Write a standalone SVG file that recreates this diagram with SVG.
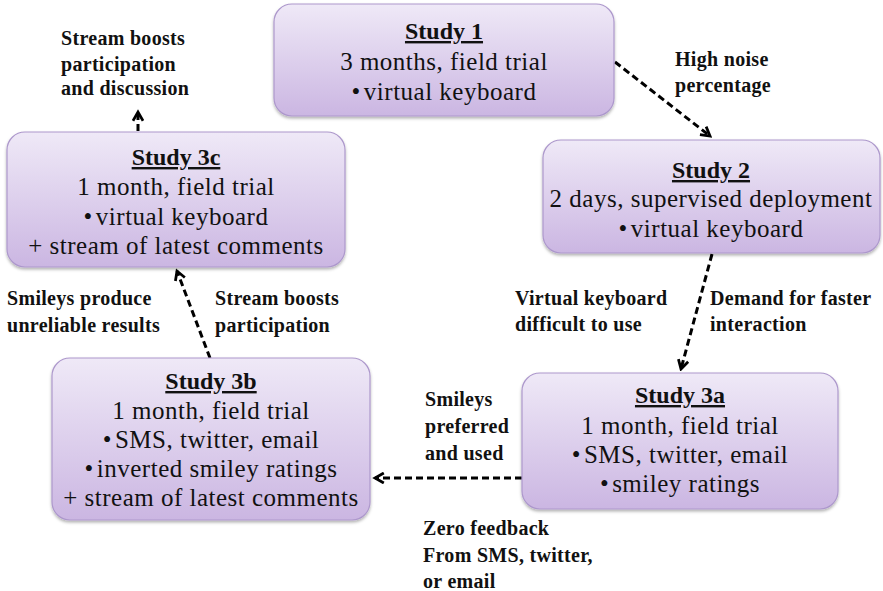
<svg xmlns="http://www.w3.org/2000/svg" width="883" height="591" viewBox="0 0 883 591">
<defs>
<linearGradient id="g" x1="0" y1="0" x2="0" y2="1">
<stop offset="0" stop-color="#efe9f7"/>
<stop offset="1" stop-color="#cbb6e2"/>
</linearGradient>
<filter id="sh" x="-10%" y="-10%" width="120%" height="130%">
<feDropShadow dx="0" dy="2" stdDeviation="1.5" flood-color="#000" flood-opacity="0.3"/>
</filter>
<marker id="ah" viewBox="0 0 10 10" refX="8" refY="5" markerWidth="4.2" markerHeight="4.2" orient="auto" markerUnits="strokeWidth">
<path d="M1,1 L8,5 L1,9" fill="none" stroke="#000" stroke-width="2.2"/>
</marker>
<style>
.box{fill:url(#g);stroke:#ad98cc;stroke-width:1.2;filter:url(#sh)}
.t{font-family:"Liberation Serif","Times New Roman",serif;font-size:24px;font-weight:bold;text-anchor:middle;text-decoration:underline;fill:#111}
.b{font-family:"Liberation Serif","Times New Roman",serif;font-size:25px;letter-spacing:0.5px;text-anchor:middle;fill:#111}
.l{font-family:"Liberation Serif","Times New Roman",serif;font-size:20px;letter-spacing:0.3px;font-weight:bold;fill:#111}
.c{fill:none;stroke:#000;stroke-width:3;stroke-dasharray:7 4;marker-end:url(#ah)}
</style>
</defs>
<g id="connectors">
<line class="c" x1="615" y1="62" x2="710" y2="136"/>
<line class="c" x1="712" y1="254" x2="681" y2="369"/>
<line class="c" x1="522" y1="478" x2="375" y2="478"/>
<line class="c" x1="210" y1="358" x2="177" y2="271"/>
<line class="c" x1="138" y1="131" x2="138" y2="112"/>
</g>
<g id="study1">
<rect class="box" x="274" y="4" width="340" height="112" rx="18"/>
<text class="t" x="444" y="39">Study 1</text>
<text class="b" x="444" y="70">3 months, field trial</text>
<text class="b" x="444" y="100">•<tspan dx="3">virtual keyboard</tspan></text>
</g>
<g id="study2">
<rect class="box" x="543" y="140" width="337" height="113" rx="18"/>
<text class="t" x="711" y="178">Study 2</text>
<text class="b" x="711" y="207">2 days, supervised deployment</text>
<text class="b" x="711" y="237">•<tspan dx="3">virtual keyboard</tspan></text>
</g>
<g id="study3c">
<rect class="box" x="7" y="132" width="338" height="135" rx="18"/>
<text class="t" x="176" y="165">Study 3c</text>
<text class="b" x="176" y="195">1 month, field trial</text>
<text class="b" x="176" y="225">•<tspan dx="3">virtual keyboard</tspan></text>
<text class="b" x="176" y="254">+ stream of latest comments</text>
</g>
<g id="study3b">
<rect class="box" x="52" y="358" width="318" height="162" rx="18"/>
<text class="t" x="211" y="389">Study 3b</text>
<text class="b" x="211" y="419">1 month, field trial</text>
<text class="b" x="211" y="448">•<tspan dx="3">SMS, twitter, email</tspan></text>
<text class="b" x="211" y="477">•<tspan dx="3">inverted smiley ratings</tspan></text>
<text class="b" x="211" y="506">+ stream of latest comments</text>
</g>
<g id="study3a">
<rect class="box" x="522" y="373" width="316" height="136" rx="18"/>
<text class="t" x="680" y="403">Study 3a</text>
<text class="b" x="680" y="434">1 month, field trial</text>
<text class="b" x="680" y="463">•<tspan dx="3">SMS, twitter, email</tspan></text>
<text class="b" x="680" y="492">•<tspan dx="3">smiley ratings</tspan></text>
</g>
<g id="labels">
<text class="l" x="61" y="45">Stream boosts</text>
<text class="l" x="61" y="71">participation</text>
<text class="l" x="61" y="95">and discussion</text>
<text class="l" x="675" y="66">High noise</text>
<text class="l" x="675" y="92">percentage</text>
<text class="l" x="515" y="305">Virtual keyboard</text>
<text class="l" x="515" y="331">difficult to use</text>
<text class="l" x="710" y="305">Demand for faster</text>
<text class="l" x="710" y="331">interaction</text>
<text class="l" x="7" y="305">Smileys produce</text>
<text class="l" x="7" y="332">unreliable results</text>
<text class="l" x="215" y="305">Stream boosts</text>
<text class="l" x="215" y="332">participation</text>
<text class="l" x="425" y="406">Smileys</text>
<text class="l" x="425" y="433">preferred</text>
<text class="l" x="425" y="460">and used</text>
<text class="l" x="423" y="535">Zero feedback</text>
<text class="l" x="423" y="562">From SMS, twitter,</text>
<text class="l" x="423" y="588">or email</text>
</g>
</svg>
